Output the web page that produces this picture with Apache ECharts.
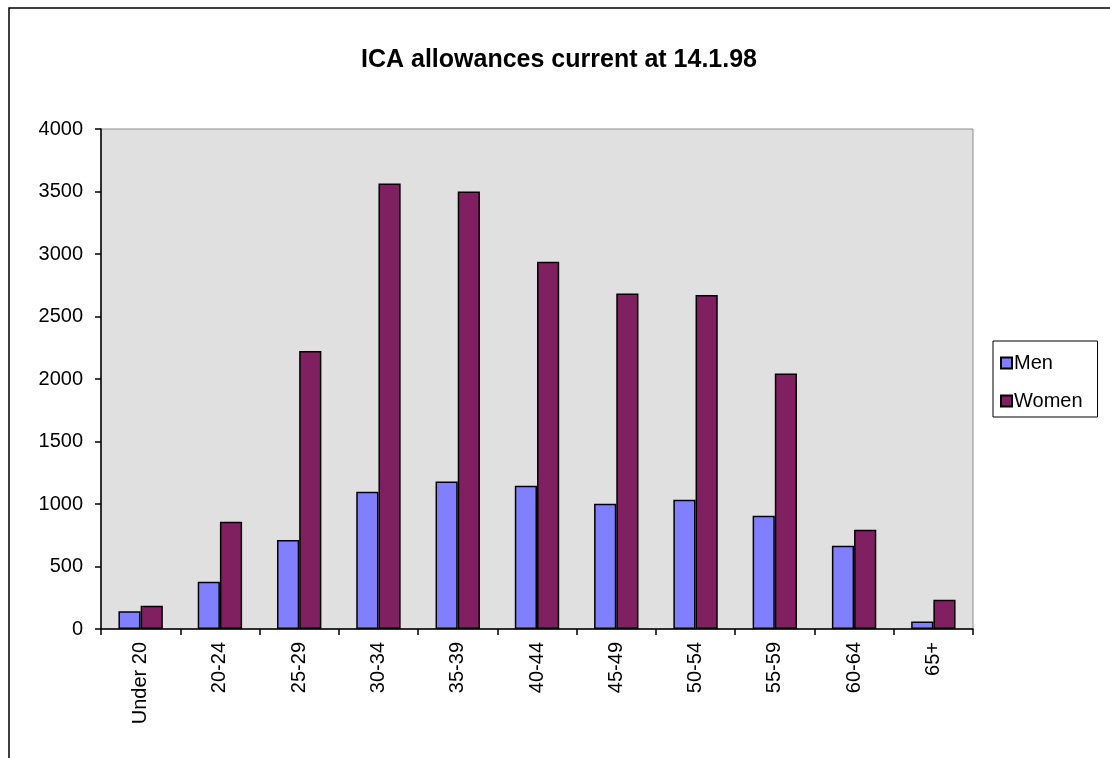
<!DOCTYPE html>
<html>
<head>
<meta charset="utf-8">
<script src="https://cdn.jsdelivr.net/npm/echarts@6/dist/echarts.min.js"></script>
<style>
html,body{margin:0;padding:0;background:#fff;}
#chart{width:1110px;height:758px;}
</style>
</head>
<body>
<div id="chart"></div>
<script>
const categories = ["Under 20","20-24","25-29","30-34","35-39","40-44","45-49","50-54","55-59","60-64","65+"];
const men = [142, 379, 712, 1098, 1181, 1146, 1002, 1034, 906, 666, 61];
const women = [186, 858, 2224, 3565, 3501, 2938, 2685, 2672, 2045, 794, 234];
const titleText = "ICA allowances current at 14.1.98";

const chart = echarts.init(document.getElementById('chart'));
const font = 'Liberation Sans, Arial, sans-serif';
chart.setOption({
  animation: false,
  backgroundColor: '#ffffff',
  title: {
    text: titleText,
    left: 361,
    top: 48,
    padding: 0,
    textStyle: {fontFamily: font, fontSize: 25, fontWeight: 'bold', color: '#000'}
  },
  graphic: [{
    type: 'rect',
    shape: {x: 9, y: 8, width: 1200, height: 800},
    style: {fill: 'none', stroke: '#000', lineWidth: 1.5},
    z: 100
  }],
  legend: {
    orient: 'vertical',
    left: 993,
    top: 341,
    padding: [12, 15, 6, 7],
    itemGap: 18,
    itemWidth: 11,
    itemHeight: 11,
    icon: 'rect',
    backgroundColor: '#fff',
    borderColor: '#000',
    borderWidth: 1,
    textStyle: {fontFamily: font, fontSize: 20, color: '#000', padding: [0, 0, 0, -3]},
    data: ['Men', 'Women']
  },
  grid: {
    left: 101, top: 129, right: 137, bottom: 129,
    show: true,
    backgroundColor: '#e0e0e0',
    borderColor: '#8c8c8c',
    borderWidth: 1
  },
  xAxis: {
    type: 'category',
    data: categories,
    axisLine: {lineStyle: {color: '#000', width: 1.5}},
    axisTick: {show: true, length: 6, lineStyle: {color: '#000', width: 1.5}},
    axisLabel: {rotate: 90, fontFamily: font, fontSize: 20, color: '#000', margin: 13}
  },
  yAxis: {
    type: 'value',
    min: 0, max: 4000, interval: 500,
    axisLine: {show: true, lineStyle: {color: '#000', width: 1.5}},
    axisTick: {show: true, length: 6, lineStyle: {color: '#000', width: 1.5}},
    splitLine: {show: false},
    axisLabel: {fontFamily: font, fontSize: 20, color: '#000', margin: 18,
      formatter: function (v) { return String(v); }}
  },
  series: [
    {
      name: 'Men', type: 'bar', data: men,
      barGap: '0%', barCategoryGap: '44%',
      itemStyle: {color: '#8080ff', borderColor: '#000', borderWidth: 1.5}
    },
    {
      name: 'Women', type: 'bar', data: women,
      barGap: '0%', barCategoryGap: '44%',
      itemStyle: {color: '#802060', borderColor: '#000', borderWidth: 1.5}
    }
  ]
});
</script>
</body>
</html>
